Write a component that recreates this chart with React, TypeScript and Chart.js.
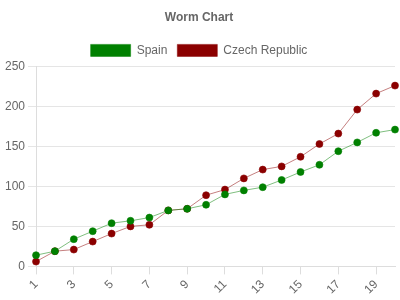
import React, { useEffect, useRef } from "react";
import { Chart, registerables } from "chart.js";

Chart.register(...registerables);

const labels = Array.from({ length: 20 }, (_, i) => String(i + 1));
const spain = [14, 19, 34, 44, 54, 57, 61, 70, 72, 77, 90, 95, 99, 108, 118, 127, 144, 155, 167, 171];
const czech = [6, 19, 21, 31, 41, 50, 52, 70, 72, 89, 96, 110, 121, 125, 137, 153, 166, 196, 216, 226];

export default function App() {
  const ref = useRef<HTMLCanvasElement>(null);
  useEffect(() => {
    document.body.style.margin = "0";
    if (!ref.current) return;
    Chart.defaults.font.family = "'Liberation Sans', Arial, sans-serif";
    Chart.defaults.color = "#666";
    const chart = new Chart(ref.current, {
      type: "line",
      data: {
        labels,
        datasets: [
          {
            label: "Spain",
            data: spain,
            backgroundColor: "#008000",
            borderColor: "rgba(0,128,0,0.5)",
            pointBackgroundColor: "#008000",
            pointBorderColor: "rgba(0,128,0,0.6)",
            borderWidth: 1,
            pointRadius: 3.5,
            pointBorderWidth: 1,
            fill: false,
            tension: 0,
          },
          {
            label: "Czech Republic",
            data: czech,
            backgroundColor: "#8B0000",
            borderColor: "rgba(139,0,0,0.5)",
            pointBackgroundColor: "#8B0000",
            pointBorderColor: "rgba(139,0,0,0.6)",
            borderWidth: 1,
            pointRadius: 3.5,
            pointBorderWidth: 1,
            fill: false,
            tension: 0,
          },
        ],
      },
      options: {
        animation: false,
        responsive: false,
        maintainAspectRatio: false,
        layout: { padding: { right: 4, left: 2 } },
        plugins: {
          title: {
            display: true,
            text: "Worm Chart",
            font: { size: 12, weight: "bold" },
            color: "#666",
            padding: { top: 10, bottom: 10 },
          },
          legend: {
            labels: { boxWidth: 40, boxHeight: 12, font: { size: 12 }, color: "#666" },
          },
          tooltip: { enabled: false },
        },
        scales: {
          x: {
            grid: { drawOnChartArea: false, color: "#ddd", tickLength: 8 },
            border: { color: "#ddd" },
            ticks: { maxRotation: 45, minRotation: 45, autoSkip: true, font: { size: 12 } },
          },
          y: {
            min: 0,
            max: 250,
            grid: { color: "#e5e5e5", tickLength: 8 },
            border: { color: "#ddd" },
            ticks: { stepSize: 50, font: { size: 12 } },
          },
        },
      },
    });
    return () => chart.destroy();
  }, []);
  return (
    <div style={{ width: 400, height: 300 }}>
      <canvas ref={ref} width={400} height={300} style={{ width: 400, height: 300, display: "block" }} />
    </div>
  );
}
